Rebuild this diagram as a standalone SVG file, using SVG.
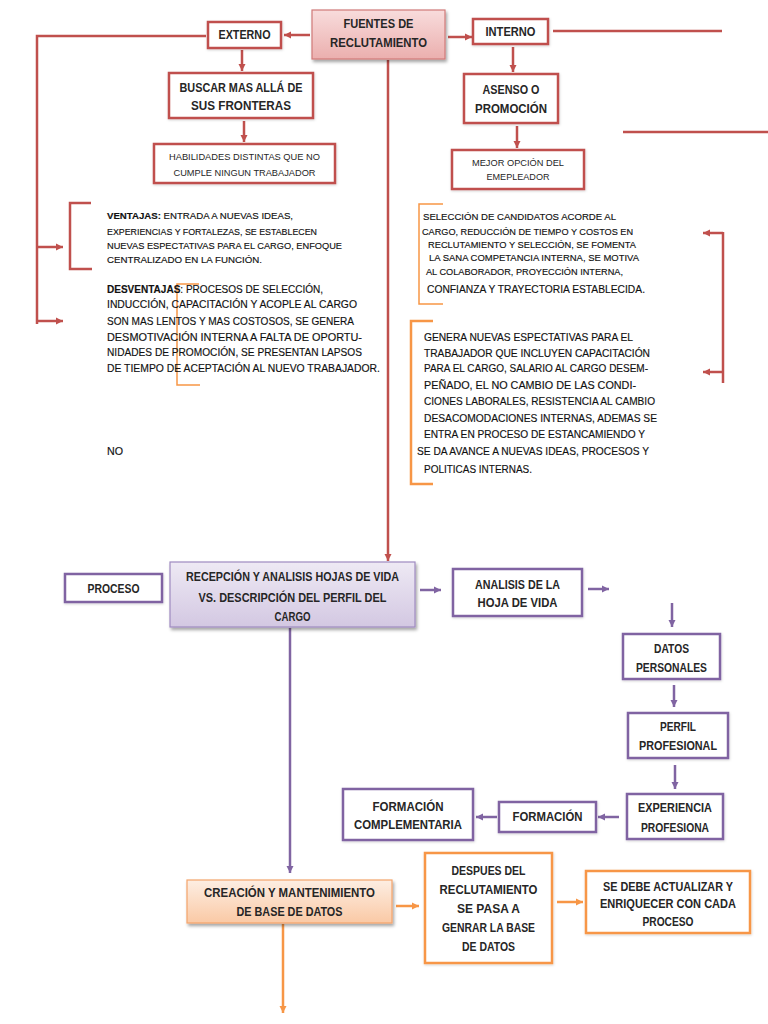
<svg xmlns="http://www.w3.org/2000/svg" width="768" height="1024" viewBox="0 0 768 1024">
<style>
.lbl{font-family:"Liberation Sans",Arial,sans-serif;font-weight:bold;font-size:12px;fill:#262626;text-anchor:middle}
.sm{font-family:"Liberation Sans",Arial,sans-serif;font-size:9.5px;fill:#262626;text-anchor:middle}
.par{font-family:"Liberation Sans",Arial,sans-serif;font-size:9.5px;fill:#111;stroke:#111;stroke-width:0.15}
.par2{font-family:"Liberation Sans",Arial,sans-serif;font-size:10.5px;fill:#111;stroke:#111;stroke-width:0.15}
.b{font-weight:bold}
.rbox{fill:#fff;stroke:#C0504D;stroke-width:2.5}
.pbox{fill:#fff;stroke:#8064A2;stroke-width:2.5}
.obox{fill:#fff;stroke:#F79646;stroke-width:2.5}
.rl{fill:none;stroke:#C0504D;stroke-width:2.5}
.pl{fill:none;stroke:#8064A2;stroke-width:2.5}
.ol{fill:none;stroke:#F79646;stroke-width:2.5}
.obr{fill:none;stroke:#F79646;stroke-width:1.5}
</style>
<defs>
<linearGradient id="gr" x1="0" y1="0" x2="0" y2="1"><stop offset="0" stop-color="#F8DCDC"/><stop offset="1" stop-color="#EBAFAE"/></linearGradient>
<linearGradient id="gp" x1="0" y1="0" x2="0" y2="1"><stop offset="0" stop-color="#EEE9F4"/><stop offset="1" stop-color="#D3C8E2"/></linearGradient>
<linearGradient id="go" x1="0" y1="0" x2="0" y2="1"><stop offset="0" stop-color="#FDEEE3"/><stop offset="1" stop-color="#FAC9A5"/></linearGradient>
<filter id="sh" x="-10%" y="-10%" width="125%" height="140%"><feDropShadow dx="1.5" dy="2.5" stdDeviation="1.8" flood-color="#000" flood-opacity="0.35"/></filter>
<filter id="sh2" x="-10%" y="-10%" width="125%" height="140%"><feDropShadow dx="0.5" dy="1" stdDeviation="1" flood-color="#000" flood-opacity="0.18"/></filter>
<marker id="ar" markerUnits="userSpaceOnUse" markerWidth="8" markerHeight="8" refX="7" refY="4" orient="auto"><path d="M0,0.5 L7,4 L0,7.5 Z" fill="#C0504D"/></marker>
<marker id="ap" markerUnits="userSpaceOnUse" markerWidth="8" markerHeight="8" refX="7" refY="4" orient="auto"><path d="M0,0.5 L7,4 L0,7.5 Z" fill="#8064A2"/></marker>
<marker id="ao" markerUnits="userSpaceOnUse" markerWidth="8" markerHeight="8" refX="7" refY="4" orient="auto"><path d="M0,0.5 L7,4 L0,7.5 Z" fill="#F79646"/></marker>
</defs>
<rect width="768" height="1024" fill="#fff"/>

<g id="connectors">
<line class="rl" x1="310" y1="35" x2="284" y2="35" marker-end="url(#ar)"/>
<line class="rl" x1="448" y1="37" x2="472" y2="37" marker-end="url(#ar)"/>
<line class="rl" x1="242" y1="50" x2="242" y2="71" marker-end="url(#ar)"/>
<line class="rl" x1="244" y1="121" x2="244" y2="142" marker-end="url(#ar)"/>
<line class="rl" x1="513" y1="47" x2="513" y2="72" marker-end="url(#ar)"/>
<line class="rl" x1="517" y1="126" x2="517" y2="148" marker-end="url(#ar)"/>
<line class="rl" x1="388" y1="60" x2="388" y2="561" marker-end="url(#ar)"/>
<polyline class="rl" points="206,36 37,36 37,324"/>
<line class="rl" x1="37" y1="247" x2="63" y2="247" marker-end="url(#ar)"/>
<line class="rl" x1="37" y1="321" x2="63" y2="321" marker-end="url(#ar)"/>
<polyline class="rl" points="91,203 70,203 70,269 92,269"/>
<line class="rl" x1="553" y1="31" x2="722" y2="31"/>
<line class="rl" x1="623" y1="132" x2="768" y2="132"/>
<line class="rl" x1="723" y1="233" x2="703" y2="233" marker-end="url(#ar)"/>
<line class="rl" x1="723" y1="232" x2="723" y2="383"/>
<line class="rl" x1="723" y1="372" x2="703" y2="372" marker-end="url(#ar)"/>
<polyline class="obr" points="199,284 177,284 177,385 200,385"/>
<polyline class="obr" points="443,204 419,204 419,304 443,304"/>
<polyline class="ol" points="433,321 411,321 411,484 433,484"/>
<line class="pl" x1="420" y1="590" x2="441" y2="590" marker-end="url(#ap)"/>
<line class="pl" x1="588" y1="589" x2="609" y2="589" marker-end="url(#ap)"/>
<line class="pl" x1="672" y1="603" x2="672" y2="627" marker-end="url(#ap)"/>
<line class="pl" x1="674" y1="685" x2="674" y2="707" marker-end="url(#ap)"/>
<line class="pl" x1="675" y1="765" x2="675" y2="789" marker-end="url(#ap)"/>
<line class="pl" x1="619" y1="817" x2="598" y2="817" marker-end="url(#ap)"/>
<line class="pl" x1="497" y1="817" x2="476" y2="817" marker-end="url(#ap)"/>
<line class="pl" x1="290" y1="628" x2="290" y2="873" marker-end="url(#ap)"/>
<line class="ol" x1="396" y1="906" x2="419" y2="906" marker-end="url(#ao)"/>
<line class="ol" x1="557" y1="902" x2="583" y2="902" marker-end="url(#ao)"/>
<line class="ol" x1="283" y1="924" x2="283" y2="1013" marker-end="url(#ao)"/>
</g>

<g id="fuentes">
<rect x="312" y="10" width="133" height="49" fill="url(#gr)" stroke="#D07A78" stroke-width="1.2" filter="url(#sh)"/>
<text class="lbl" x="378.5" y="28.3" textLength="70" lengthAdjust="spacingAndGlyphs">FUENTES DE</text>
<text class="lbl" x="378.5" y="47.3" textLength="97" lengthAdjust="spacingAndGlyphs">RECLUTAMIENTO</text>
</g>
<g id="externo">
<rect class="rbox" x="208" y="22" width="73" height="26" filter="url(#sh2)"/>
<text class="lbl" x="244.5" y="39.3" textLength="52" lengthAdjust="spacingAndGlyphs">EXTERNO</text>
</g>
<g id="interno">
<rect class="rbox" x="473" y="19" width="75" height="25" filter="url(#sh2)"/>
<text class="lbl" x="510.5" y="36.3" textLength="50" lengthAdjust="spacingAndGlyphs">INTERNO</text>
</g>
<g id="buscar">
<rect class="rbox" x="169" y="73" width="144" height="45" filter="url(#sh2)"/>
<text class="lbl" x="241" y="92.3" textLength="123" lengthAdjust="spacingAndGlyphs">BUSCAR MAS ALLÁ DE</text>
<text class="lbl" x="241" y="110.3" textLength="100" lengthAdjust="spacingAndGlyphs">SUS FRONTERAS</text>
</g>
<g id="habilidades">
<rect class="rbox" x="154" y="144" width="181" height="39" filter="url(#sh2)"/>
<text class="sm" x="244.5" y="160.4" textLength="151" lengthAdjust="spacingAndGlyphs">HABILIDADES DISTINTAS QUE NO</text>
<text class="sm" x="244.5" y="176.4" textLength="142" lengthAdjust="spacingAndGlyphs">CUMPLE NINGUN TRABAJADOR</text>
</g>
<g id="asenso">
<rect class="rbox" x="464" y="74" width="94" height="49" filter="url(#sh2)"/>
<text class="lbl" x="511" y="94.3" textLength="57" lengthAdjust="spacingAndGlyphs">ASENSO O</text>
<text class="lbl" x="511" y="113.3" textLength="72" lengthAdjust="spacingAndGlyphs">PROMOCIÓN</text>
</g>
<g id="mejor">
<rect class="rbox" x="452" y="150" width="132" height="39" filter="url(#sh2)"/>
<text class="sm" x="518" y="166.4" textLength="92" lengthAdjust="spacingAndGlyphs">MEJOR OPCIÓN DEL</text>
<text class="sm" x="518" y="180.4" textLength="63" lengthAdjust="spacingAndGlyphs">EMEPLEADOR</text>
</g>

<g id="ventajas">
<text class="par" x="107" y="219.4" textLength="186" lengthAdjust="spacingAndGlyphs"><tspan class="b">VENTAJAS:</tspan> ENTRADA A NUEVAS IDEAS,</text>
<text class="par" x="107" y="235.4" textLength="210" lengthAdjust="spacingAndGlyphs">EXPERIENCIAS Y FORTALEZAS, SE ESTABLECEN</text>
<text class="par" x="107" y="249.4" textLength="235" lengthAdjust="spacingAndGlyphs">NUEVAS ESPECTATIVAS PARA EL CARGO, ENFOQUE</text>
<text class="par" x="107" y="263.4" textLength="155" lengthAdjust="spacingAndGlyphs">CENTRALIZADO EN LA FUNCIÓN.</text>
</g>
<g id="desventajas">
<text class="par2" x="107" y="292.8" textLength="216" lengthAdjust="spacingAndGlyphs"><tspan class="b">DESVENTAJAS</tspan>: PROCESOS DE SELECCIÓN,</text>
<text class="par2" x="107" y="307.8" textLength="250" lengthAdjust="spacingAndGlyphs">INDUCCIÓN, CAPACITACIÓN Y ACOPLE AL CARGO</text>
<text class="par2" x="107" y="324.8" textLength="247" lengthAdjust="spacingAndGlyphs">SON MAS LENTOS Y MAS COSTOSOS, SE GENERA</text>
<text class="par2" x="107" y="340.8" textLength="255" lengthAdjust="spacingAndGlyphs">DESMOTIVACIÓN INTERNA A FALTA DE OPORTU-</text>
<text class="par2" x="107" y="355.8" textLength="255" lengthAdjust="spacingAndGlyphs">NIDADES DE PROMOCIÓN, SE PRESENTAN LAPSOS</text>
<text class="par2" x="107" y="371.8" textLength="273" lengthAdjust="spacingAndGlyphs">DE TIEMPO DE ACEPTACIÓN AL NUEVO TRABAJADOR.</text>
</g>
<g id="no">
<text class="par2" x="107" y="454.8" textLength="16" lengthAdjust="spacingAndGlyphs">NO</text>
</g>
<g id="seleccion">
<text class="par" x="423" y="220.4" textLength="193" lengthAdjust="spacingAndGlyphs">SELECCIÓN DE CANDIDATOS ACORDE AL</text>
<text class="par" x="422" y="235.4" textLength="211" lengthAdjust="spacingAndGlyphs">CARGO, REDUCCIÓN DE TIEMPO Y COSTOS EN</text>
<text class="par" x="428" y="248.4" textLength="208" lengthAdjust="spacingAndGlyphs">RECLUTAMIENTO Y SELECCIÓN, SE FOMENTA</text>
<text class="par" x="429" y="261.4" textLength="210" lengthAdjust="spacingAndGlyphs">LA SANA COMPETANCIA INTERNA, SE MOTIVA</text>
<text class="par" x="426" y="275.4" textLength="197" lengthAdjust="spacingAndGlyphs">AL COLABORADOR, PROYECCIÓN INTERNA,</text>
<text class="par2" x="427" y="292.8" textLength="218" lengthAdjust="spacingAndGlyphs">CONFIANZA Y TRAYECTORIA ESTABLECIDA.</text>
</g>
<g id="genera">
<text class="par2" x="424" y="340.8" textLength="209" lengthAdjust="spacingAndGlyphs">GENERA NUEVAS ESPECTATIVAS PARA EL</text>
<text class="par2" x="424" y="356.8" textLength="226" lengthAdjust="spacingAndGlyphs">TRABAJADOR QUE INCLUYEN CAPACITACIÓN</text>
<text class="par2" x="424" y="371.8" textLength="224" lengthAdjust="spacingAndGlyphs">PARA EL CARGO, SALARIO AL CARGO DESEM-</text>
<text class="par2" x="424" y="388.8" textLength="212" lengthAdjust="spacingAndGlyphs">PEÑADO, EL NO CAMBIO DE LAS CONDI-</text>
<text class="par2" x="424" y="404.8" textLength="231" lengthAdjust="spacingAndGlyphs">CIONES LABORALES, RESISTENCIA AL CAMBIO</text>
<text class="par2" x="424" y="421.8" textLength="233" lengthAdjust="spacingAndGlyphs">DESACOMODACIONES INTERNAS, ADEMAS SE</text>
<text class="par2" x="424" y="437.8" textLength="221" lengthAdjust="spacingAndGlyphs">ENTRA EN PROCESO DE ESTANCAMIENDO Y</text>
<text class="par2" x="417" y="454.8" textLength="232" lengthAdjust="spacingAndGlyphs">SE DA AVANCE A NUEVAS IDEAS, PROCESOS Y</text>
<text class="par2" x="424" y="472.8" textLength="108" lengthAdjust="spacingAndGlyphs">POLITICAS INTERNAS.</text>
</g>

<g id="proceso">
<rect class="pbox" x="65" y="574" width="97" height="28" filter="url(#sh2)"/>
<text class="lbl" x="113.5" y="593.3" textLength="52" lengthAdjust="spacingAndGlyphs">PROCESO</text>
</g>
<g id="recepcion">
<rect x="170" y="562" width="245" height="65" fill="url(#gp)" stroke="#9F8AC0" stroke-width="1.2" filter="url(#sh)"/>
<text class="lbl" x="292.5" y="581.3" textLength="213" lengthAdjust="spacingAndGlyphs">RECEPCIÓN Y ANALISIS HOJAS DE VIDA</text>
<text class="lbl" x="292.5" y="602.3" textLength="188" lengthAdjust="spacingAndGlyphs">VS. DESCRIPCIÓN DEL PERFIL DEL</text>
<text class="lbl" x="292.5" y="621.3" textLength="36" lengthAdjust="spacingAndGlyphs">CARGO</text>
</g>
<g id="analisis">
<rect class="pbox" x="453" y="569" width="129" height="47" filter="url(#sh2)"/>
<text class="lbl" x="517.5" y="589.3" textLength="85" lengthAdjust="spacingAndGlyphs">ANALISIS DE LA</text>
<text class="lbl" x="517.5" y="607.3" textLength="80" lengthAdjust="spacingAndGlyphs">HOJA DE VIDA</text>
</g>
<g id="datos">
<rect class="pbox" x="623" y="634" width="97" height="45" filter="url(#sh2)"/>
<text class="lbl" x="671.5" y="653.3" textLength="35" lengthAdjust="spacingAndGlyphs">DATOS</text>
<text class="lbl" x="671.5" y="672.3" textLength="71" lengthAdjust="spacingAndGlyphs">PERSONALES</text>
</g>
<g id="perfil">
<rect class="pbox" x="628" y="713" width="100" height="45" filter="url(#sh2)"/>
<text class="lbl" x="678" y="731.3" textLength="36" lengthAdjust="spacingAndGlyphs">PERFIL</text>
<text class="lbl" x="678" y="750.3" textLength="78" lengthAdjust="spacingAndGlyphs">PROFESIONAL</text>
</g>
<g id="experiencia">
<rect class="pbox" x="627" y="794" width="96" height="45" filter="url(#sh2)"/>
<text class="lbl" x="675" y="812.3" textLength="74" lengthAdjust="spacingAndGlyphs">EXPERIENCIA</text>
<text class="lbl" x="675" y="832.3" textLength="68" lengthAdjust="spacingAndGlyphs">PROFESIONA</text>
</g>
<g id="formacion">
<rect class="pbox" x="499" y="802" width="97" height="30" filter="url(#sh2)"/>
<text class="lbl" x="547.5" y="821.3" textLength="70" lengthAdjust="spacingAndGlyphs">FORMACIÓN</text>
</g>
<g id="formacion-complementaria">
<rect class="pbox" x="343" y="789" width="130" height="51" filter="url(#sh2)"/>
<text class="lbl" x="408" y="811.3" textLength="71" lengthAdjust="spacingAndGlyphs">FORMACIÓN</text>
<text class="lbl" x="408" y="829.3" textLength="108" lengthAdjust="spacingAndGlyphs">COMPLEMENTARIA</text>
</g>

<g id="creacion">
<rect x="187" y="880" width="205" height="43" fill="url(#go)" stroke="#F3A46B" stroke-width="1.2" filter="url(#sh)"/>
<text class="lbl" x="289.5" y="897.3" textLength="171" lengthAdjust="spacingAndGlyphs">CREACIÓN Y MANTENIMIENTO</text>
<text class="lbl" x="289.5" y="916.3" textLength="106" lengthAdjust="spacingAndGlyphs">DE BASE DE DATOS</text>
</g>
<g id="despues">
<rect class="obox" x="425" y="853" width="127" height="110" filter="url(#sh2)"/>
<text class="lbl" x="488.5" y="875.3" textLength="74" lengthAdjust="spacingAndGlyphs">DESPUES DEL</text>
<text class="lbl" x="488.5" y="894.3" textLength="98" lengthAdjust="spacingAndGlyphs">RECLUTAMIENTO</text>
<text class="lbl" x="488.5" y="913.3" textLength="63" lengthAdjust="spacingAndGlyphs">SE PASA A</text>
<text class="lbl" x="488.5" y="932.3" textLength="93" lengthAdjust="spacingAndGlyphs">GENRAR LA BASE</text>
<text class="lbl" x="488.5" y="951.3" textLength="53" lengthAdjust="spacingAndGlyphs">DE DATOS</text>
</g>
<g id="actualizar">
<rect class="obox" x="586" y="871" width="164" height="62" filter="url(#sh2)"/>
<text class="lbl" x="668" y="891.3" textLength="130" lengthAdjust="spacingAndGlyphs">SE DEBE ACTUALIZAR Y</text>
<text class="lbl" x="668" y="908.3" textLength="136" lengthAdjust="spacingAndGlyphs">ENRIQUECER CON CADA</text>
<text class="lbl" x="668" y="926.3" textLength="51" lengthAdjust="spacingAndGlyphs">PROCESO</text>
</g>
</svg>
